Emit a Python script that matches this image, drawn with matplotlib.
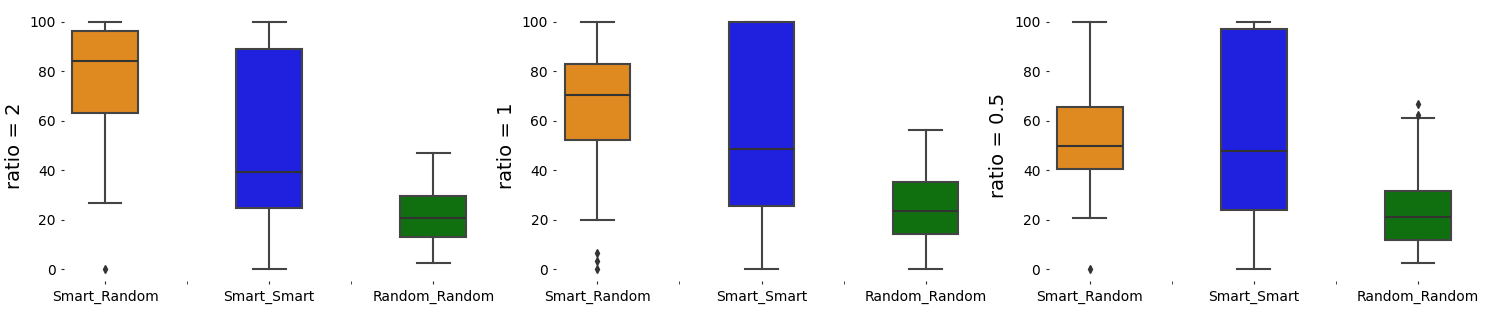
import matplotlib.pyplot as plt

categories = ['Smart_Random', 'Smart_Smart', 'Random_Random']
ratio_labels = ['ratio = 2', 'ratio = 1', 'ratio = 0.5']
colors = ['#df8a20', '#2020df', '#107010']

# box statistics, one list per panel, order = categories
whislo = [[26.8, 0.0, 2.4], [19.8, 0.0, 0.0], [20.8, 0.0, 2.6]]
q1 = [[63.2, 24.7, 13.0], [52.4, 25.5, 14.2], [40.6, 24.0, 11.9]]
med = [[84.2, 39.3, 20.6], [70.4, 48.6, 23.5], [49.9, 47.8, 21.2]]
q3 = [[96.4, 89.2, 29.6], [83.0, 100.0, 35.2], [65.6, 97.2, 31.7]]
whishi = [[100.0, 100.0, 47.0], [100.0, 100.0, 56.3], [100.0, 100.0, 61.2]]
fliers = [[[0.0], [], []],
          [[0.0, 3.4, 6.4], [], []],
          [[0.0], [], [62.4, 66.7]]]

line_color = '#444444'

fig = plt.figure(figsize=(14.86, 3.1), dpi=100)
fig.subplots_adjust(left=0.0431, right=0.9818, bottom=0.0923, top=0.969, wspace=0.2)
axes = fig.subplots(1, 3)

for p, ax in enumerate(axes):
    stats = []
    for i, cat in enumerate(categories):
        stats.append(dict(label=cat, whislo=whislo[p][i], q1=q1[p][i], med=med[p][i],
                          q3=q3[p][i], whishi=whishi[p][i], fliers=fliers[p][i]))
    bp = ax.bxp(stats, positions=range(len(categories)), widths=0.4, patch_artist=True,
                boxprops=dict(edgecolor=line_color, linewidth=1.5),
                whiskerprops=dict(color=line_color, linewidth=1.5),
                capprops=dict(color=line_color, linewidth=1.5),
                medianprops=dict(color='#333333', linewidth=1.5),
                flierprops=dict(marker='d', markersize=4, markerfacecolor='#333333',
                                markeredgecolor='#333333'))
    for box, c in zip(bp['boxes'], colors):
        box.set_facecolor(c)

    ax.set_xlim(-0.25, 2.25)
    ax.set_ylim(-5, 105)
    ax.set_yticks([0, 20, 40, 60, 80, 100])
    ax.set_xticks([0, 1, 2])
    ax.set_xticklabels(categories)
    ax.set_xticks([0.5, 1.5], minor=True)
    ax.tick_params(axis='both', which='both', length=2.5, color='#262626', labelsize=10)
    ax.set_ylabel(ratio_labels[p], fontsize=14)
    for s in ax.spines.values():
        s.set_visible(False)

plt.savefig('out.png')
